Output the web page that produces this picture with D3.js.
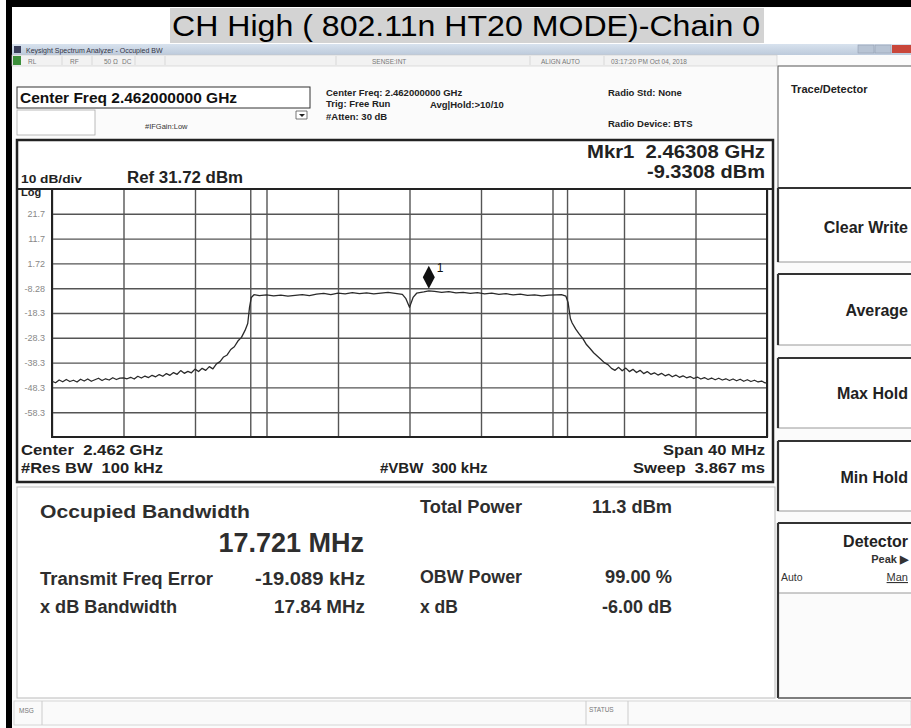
<!DOCTYPE html>
<html>
<head>
<meta charset="utf-8">
<script src="https://cdn.jsdelivr.net/npm/d3@7"></script>
<style>
  html, body { margin: 0; padding: 0; background: #ffffff; }
  svg { display: block; }
  text { font-family: "Liberation Sans", Arial, sans-serif; }
</style>
</head>
<body>
<svg id="chart" width="911" height="728"></svg>
<script>
// ---------------- data ----------------
const chartTitle = "CH High ( 802.11n HT20 MODE)-Chain 0";

// frequency offset from centre (MHz) and trace level (dBm)
const freqOffsetMHz = [
  // lower skirt / noise
  -20.0, -19.8, -19.6, -19.4, -19.2, -19.0, -18.8, -18.6, -18.4, -18.2,
  -18.0, -17.8, -17.6, -17.4, -17.2, -17.0, -16.8, -16.6, -16.4, -16.2,
  -16.0, -15.8, -15.6, -15.4, -15.2, -15.0, -14.8, -14.6, -14.4, -14.2,
  -14.0, -13.8, -13.6, -13.4, -13.2, -13.0, -12.8, -12.6, -12.4, -12.2,
  -12.0, -11.8, -11.6, -11.4, -11.2, -11.0,
  -10.8, -10.6, -10.4, -10.2, -10.0, -9.8, -9.6, -9.4, -9.2, -9.05, -8.95, -8.85, -8.7,
  // in-band
  -8.4, -8.0, -7.6, -7.2, -6.8, -6.4, -6.0, -5.6, -5.2, -4.8,
  -4.4, -4.0, -3.6, -3.2, -2.8, -2.4, -2.0, -1.6, -1.2, -0.8,
  -0.4, -0.2, 0.0, 0.2, 0.4, 0.8, 1.08, 1.4, 1.8, 2.2,
  2.6, 3.0, 3.4, 3.8, 4.2, 4.6, 5.0, 5.4, 5.8, 6.2,
  6.6, 7.0, 7.4, 7.8, 8.2, 8.5, 8.75,
  // upper skirt / noise
  8.87, 9.0, 9.1, 9.3, 9.5, 9.7, 9.9, 10.1, 10.3, 10.5,
  10.7, 10.9, 11.1, 11.3, 11.5,
  11.7, 11.9, 12.1, 12.3, 12.5, 12.7, 12.9, 13.1, 13.3, 13.5,
  13.7, 13.9, 14.1, 14.3, 14.5, 14.7, 14.9, 15.1, 15.3, 15.5,
  15.7, 15.9, 16.1, 16.3, 16.5, 16.7, 16.9, 17.1, 17.3, 17.5,
  17.7, 17.9, 18.1, 18.3, 18.5, 18.7, 18.9, 19.1, 19.3, 19.5,
  19.7, 19.9, 20.0
];
const levelDbm = [
  // lower skirt / noise
  -45.8, -46.4, -45.3, -46.0, -45.1, -45.9, -45.4, -46.1, -45.0, -45.7,
  -44.9, -45.8, -45.2, -44.6, -45.5, -44.8, -45.3, -44.4, -45.1, -44.5,
  -44.4, -44.8, -44.2, -44.9, -43.8, -44.5, -43.7, -44.3, -43.4, -44.0,
  -43.1, -43.8, -42.7, -43.4, -42.3, -43.0, -41.5, -42.6, -41.8, -42.4,
  -40.9, -41.9, -40.6, -41.4, -39.9, -40.8,
  -38.8, -37.9, -36.0, -35.2, -33.0, -31.9, -29.6, -28.1, -25.3, -22.5, -16.0, -12.0, -10.9,
  // in-band
  -11.3, -11.0, -11.4, -11.1, -11.5, -11.2, -10.9, -11.3, -10.7, -10.4,
  -10.9, -10.3, -10.6, -10.1, -10.5, -10.2, -10.6, -10.3, -10.0, -10.4,
  -10.8, -12.5, -16.0, -12.0, -10.3, -9.8, -9.33, -9.6, -10.0, -9.7,
  -10.2, -10.0, -10.4, -10.1, -10.6, -10.3, -10.8, -10.5, -11.0, -10.7,
  -11.2, -11.0, -11.4, -11.1, -11.0, -10.9, -11.5,
  // upper skirt / noise
  -14.0, -20.5, -22.3, -24.8, -26.8, -28.6, -31.0, -32.6, -34.3, -35.6,
  -36.9, -38.3, -39.1, -40.6, -41.4,
  -40.2, -41.6, -40.5, -41.9, -41.0, -42.3, -41.4, -42.7, -41.9, -43.0,
  -42.4, -43.3, -42.6, -43.6, -43.0, -44.0, -43.3, -44.2, -43.6, -44.4,
  -43.9, -44.7, -44.1, -44.9, -44.3, -45.1, -44.5, -45.2, -44.6, -45.3,
  -44.8, -45.5, -44.9, -45.6, -45.0, -45.8, -45.2, -45.9, -45.4, -46.1,
  -45.7, -46.5, -46.2
];

const xGridMHz = [-20, -16, -12, -8, -4, 0, 4, 8, 12, 16, 20];
const yTickValues = [21.72, 11.72, 1.72, -8.28, -18.28, -28.28, -38.28, -48.28, -58.28];
const yTickLabels = ["21.7", "11.7", "1.72", "-8.28", "-18.3", "-28.3", "-38.3", "-48.3", "-58.3"];
const obwEdgesMHz = [-8.880, 8.841];
const markerFreqMHz = [1.08];
const markerLevelDbm = [-9.3308];

const refLevel = 31.72;
const bottomLevel = -68.28;
const halfSpanMHz = 20;

const softkeys = ["Clear Write", "Average", "Max Hold", "Min Hold"];

// ---------------- drawing ----------------
const svg = d3.select("#chart");
const W = 911, H = 728;

function txt(t, xx, yy, size, o) {
  o = o || {};
  const el = svg.append("text").attr("x", xx).attr("y", yy).attr("font-size", size)
    .attr("fill", o.fill || "#222").attr("xml:space", "preserve").text(t);
  if (o.bold !== false) el.attr("font-weight", "bold");
  if (o.anchor) el.attr("text-anchor", o.anchor);
  if (o.len) el.attr("textLength", o.len).attr("lengthAdjust", "spacingAndGlyphs");
  return el;
}

svg.append("rect").attr("x", 0).attr("y", 0).attr("width", W).attr("height", H).attr("fill", "#ffffff");

// outer black frame (left and top)
svg.append("rect").attr("x", 6).attr("y", 0).attr("width", W - 6).attr("height", 7).attr("fill", "#000");
svg.append("rect").attr("x", 6).attr("y", 0).attr("width", 6).attr("height", H).attr("fill", "#000");

// title
svg.append("rect").attr("x", 170).attr("y", 8).attr("width", 594).attr("height", 35).attr("fill", "#d3d3d3");
txt(chartTitle, 172, 36, 30, { bold: false, fill: "#000", len: 588 });

// window screenshot background
svg.append("rect").attr("x", 12).attr("y", 44).attr("width", W - 12).attr("height", H - 44).attr("fill", "#fbfbfb");

// window title bar
const tb = svg.append("defs").append("linearGradient").attr("id", "tbg").attr("x1", 0).attr("x2", 0).attr("y1", 0).attr("y2", 1);
tb.append("stop").attr("offset", "0%").attr("stop-color", "#d8e2ee");
tb.append("stop").attr("offset", "100%").attr("stop-color", "#bccadb");
svg.append("rect").attr("x", 12).attr("y", 44).attr("width", W - 12).attr("height", 11).attr("fill", "url(#tbg)");
svg.append("rect").attr("x", 14).attr("y", 46).attr("width", 7).attr("height", 7).attr("fill", "#3a3f5a");
txt("Keysight Spectrum Analyzer - Occupied BW", 26, 52.5, 7, { bold: false, fill: "#334" });
svg.append("rect").attr("x", 858).attr("y", 45).attr("width", 16).attr("height", 8).attr("fill", "#b8c4d4").attr("stroke", "#8894a8").attr("stroke-width", 0.5);
svg.append("rect").attr("x", 875).attr("y", 45).attr("width", 16).attr("height", 8).attr("fill", "#b8c4d4").attr("stroke", "#8894a8").attr("stroke-width", 0.5);
svg.append("rect").attr("x", 892).attr("y", 45).attr("width", 19).attr("height", 8).attr("fill", "#c9463a");

// status row
svg.append("rect").attr("x", 12).attr("y", 55).attr("width", 765).attr("height", 11).attr("fill", "#f2f2f2").attr("stroke", "#c8c8c8").attr("stroke-width", 0.6);
svg.append("rect").attr("x", 13).attr("y", 56).attr("width", 8).attr("height", 9).attr("fill", "#3c8f3a");
const statusItems = [["RL", 28], ["RF", 70], ["50 Ω", 104], ["DC", 122], ["SENSE:INT", 372], ["ALIGN AUTO", 541], ["03:17:20 PM Oct 04, 2018", 611]];
statusItems.forEach(([t, xx]) => txt(t, xx, 63.5, 6.5, { bold: false, fill: "#777" }));
[62, 92, 135, 165, 336, 530, 604].forEach(xx => svg.append("line").attr("x1", xx).attr("x2", xx).attr("y1", 56).attr("y2", 65).attr("stroke", "#c8c8c8").attr("stroke-width", 0.6));

// header panel
svg.append("rect").attr("x", 17).attr("y", 87).attr("width", 293).attr("height", 21).attr("fill", "#fff").attr("stroke", "#333").attr("stroke-width", 1);
txt("Center Freq 2.462000000 GHz", 20, 103, 15.5, { fill: "#111" });
svg.append("rect").attr("x", 17).attr("y", 110).attr("width", 78).attr("height", 25).attr("fill", "#fff").attr("stroke", "#aaa").attr("stroke-width", 0.8);
txt("#IFGain:Low", 145, 129, 7.5, { bold: false, fill: "#333" });
svg.append("path").attr("d", "M296,111 h11 v8 h-11 z").attr("fill", "#fff").attr("stroke", "#555").attr("stroke-width", 0.8);
svg.append("path").attr("d", "M299,114 l3,3 l3,-3 z").attr("fill", "#222");
const hdr = [
  ["Center Freq: 2.462000000 GHz", 326, 96],
  ["Trig: Free Run", 326, 107],
  ["Avg|Hold:>10/10", 430, 108],
  ["#Atten: 30 dB", 326, 120],
  ["Radio Std: None", 608, 96],
  ["Radio Device: BTS", 608, 127]
];
hdr.forEach(([t, xx, yy]) => txt(t, xx, yy, 9.5));

// softkey panel
svg.append("rect").attr("x", 778).attr("y", 66).attr("width", 135).attr("height", 122).attr("fill", "#fff").attr("stroke", "#555").attr("stroke-width", 1);
txt("Trace/Detector", 791, 93, 11);
const keyTops = [188, 274, 358, 441];
const keyBottoms = [262, 345, 428, 511];
const keyBase = [233, 316, 399, 483];
softkeys.forEach((k, i) => {
  svg.append("rect").attr("x", 778).attr("y", keyTops[i]).attr("width", 140).attr("height", keyBottoms[i] - keyTops[i])
    .attr("fill", "#fff").attr("stroke", "#999").attr("stroke-width", 1);
  svg.append("line").attr("x1", 778).attr("x2", 911).attr("y1", keyTops[i]).attr("y2", keyTops[i]).attr("stroke", "#333").attr("stroke-width", 2.2);
  svg.append("line").attr("x1", 778).attr("x2", 778).attr("y1", keyTops[i]).attr("y2", keyBottoms[i]).attr("stroke", "#333").attr("stroke-width", 2.2);
  txt(k, 908, keyBase[i], 16, { anchor: "end", fill: "#222" });
});
// detector key
svg.append("rect").attr("x", 778).attr("y", 523).attr("width", 140).attr("height", 70).attr("fill", "#fff").attr("stroke", "#999").attr("stroke-width", 1);
svg.append("line").attr("x1", 778).attr("x2", 911).attr("y1", 523).attr("y2", 523).attr("stroke", "#333").attr("stroke-width", 2.2);
svg.append("line").attr("x1", 778).attr("x2", 778).attr("y1", 523).attr("y2", 698).attr("stroke", "#333").attr("stroke-width", 2.2);
svg.append("line").attr("x1", 778).attr("x2", 911).attr("y1", 698).attr("y2", 698).attr("stroke", "#555").attr("stroke-width", 1.5);
txt("Detector", 908, 547, 16, { anchor: "end" });
txt("Peak ▶", 908, 563, 11, { anchor: "end", fill: "#333" });
txt("Auto", 781, 581, 10.5, { bold: false, fill: "#333" });
txt("Man", 908, 581, 11, { bold: false, anchor: "end", fill: "#333" }).attr("text-decoration", "underline");

// plot panel frame
svg.append("rect").attr("x", 17).attr("y", 140).attr("width", 756).attr("height", 342).attr("fill", "#fff").attr("stroke", "#222").attr("stroke-width", 2.5);

// plot area
const plotL = 52, plotR = 767, plotT = 189, plotB = 437;
const x = d3.scaleLinear().domain([-halfSpanMHz, halfSpanMHz]).range([plotL, plotR]);
const y = d3.scaleLinear().domain([bottomLevel, refLevel]).range([plotB, plotT]);

svg.append("line").attr("x1", 17).attr("x2", 773).attr("y1", plotT).attr("y2", plotT).attr("stroke", "#222").attr("stroke-width", 2);

const gx = svg.append("g").attr("transform", `translate(0,${plotB})`)
  .call(d3.axisBottom(x).tickValues(xGridMHz).tickSize(-(plotB - plotT)).tickFormat(""));
gx.select(".domain").remove();
gx.selectAll(".tick line").attr("stroke", "#555").attr("stroke-width", 1.4);

const gy = svg.append("g").attr("transform", `translate(${plotL},0)`)
  .call(d3.axisLeft(y).tickValues(yTickValues).tickSize(-(plotR - plotL)).tickPadding(7)
    .tickFormat((d, i) => yTickLabels[i]));
gy.select(".domain").remove();
gy.selectAll(".tick line").attr("stroke", "#555").attr("stroke-width", 1.4);
gy.selectAll(".tick text").attr("font-family", "'Liberation Sans Narrow', 'Liberation Sans', sans-serif")
  .attr("font-size", 9).attr("fill", "#888");

// OBW edge lines
svg.selectAll(".obw").data(obwEdgesMHz).enter().append("line")
  .attr("x1", d => x(d)).attr("x2", d => x(d)).attr("y1", plotT).attr("y2", plotB)
  .attr("stroke", "#555").attr("stroke-width", 1.4);

// plot border
svg.append("rect").attr("x", plotL).attr("y", plotT).attr("width", plotR - plotL).attr("height", plotB - plotT)
  .attr("fill", "none").attr("stroke", "#222").attr("stroke-width", 2);

// trace
const n = Math.min(freqOffsetMHz.length, levelDbm.length);
const traceData = d3.range(n).map(i => [freqOffsetMHz[i], levelDbm[i]]);
svg.append("path").datum(traceData)
  .attr("d", d3.line().x(d => x(d[0])).y(d => y(d[1])))
  .attr("fill", "none").attr("stroke", "#2a2a2a").attr("stroke-width", 1.3).attr("stroke-linejoin", "round");

// marker
markerFreqMHz.forEach((f, i) => {
  const mx = x(f), my = y(markerLevelDbm[i]) - 2;
  svg.append("path").attr("d", `M${mx},${my} L${mx - 6},${my - 11.5} L${mx},${my - 23} L${mx + 6},${my - 11.5} Z`).attr("fill", "#111");
  txt(String(i + 1), mx + 8, my - 17, 12, { bold: false, fill: "#111" });
});

// plot annotations
txt("Mkr1  2.46308 GHz", 765, 158, 18, { anchor: "end", len: 178 });
txt("-9.3308 dBm", 765, 178, 18, { anchor: "end", len: 118 });
txt("10 dB/div", 21, 183, 11, { len: 61 });
txt("Log", 21, 196, 11);
txt("Ref 31.72 dBm", 127, 183, 16, { len: 116 });
txt("Center  2.462 GHz", 21, 455, 15, { len: 142 });
txt("#Res BW  100 kHz", 21, 473, 15, { len: 142 });
txt("#VBW  300 kHz", 380, 473, 15);
txt("Span 40 MHz", 765, 455, 15, { anchor: "end", len: 102 });
txt("Sweep  3.867 ms", 765, 473, 15, { anchor: "end", len: 132 });

// results panel
svg.append("rect").attr("x", 17).attr("y", 487).attr("width", 758).attr("height", 211).attr("fill", "#fff").attr("stroke", "#bbb").attr("stroke-width", 1);
const rc = "#2e2e2e";
txt("Occupied Bandwidth", 40, 518, 19, { fill: rc, len: 210 });
txt("17.721 MHz", 364, 552, 27, { fill: rc, anchor: "end" });
txt("Transmit Freq Error", 40, 585, 17.5, { fill: rc, len: 173 });
txt("-19.089 kHz", 365, 585, 17.5, { fill: rc, anchor: "end", len: 110 });
txt("x dB Bandwidth", 40, 613, 17.5, { fill: rc, len: 137 });
txt("17.84 MHz", 365, 613, 17.5, { fill: rc, anchor: "end", len: 91 });
txt("Total Power", 420, 513, 17.5, { fill: rc, len: 102 });
txt("11.3 dBm", 672, 513, 17.5, { fill: rc, anchor: "end", len: 80 });
txt("OBW Power", 420, 583, 17.5, { fill: rc, len: 102 });
txt("99.00 %", 672, 583, 17.5, { fill: rc, anchor: "end", len: 67 });
txt("x dB", 420, 613, 17.5, { fill: rc });
txt("-6.00 dB", 672, 613, 17.5, { fill: rc, anchor: "end", len: 70 });

// bottom message bar
svg.append("rect").attr("x", 14).attr("y", 701).attr("width", 897).attr("height", 24).attr("fill", "#fafafa").attr("stroke", "#ccc").attr("stroke-width", 0.8);
[42, 586, 628].forEach(xx => svg.append("line").attr("x1", xx).attr("x2", xx).attr("y1", 701).attr("y2", 725).attr("stroke", "#ccc"));
txt("MSG", 19, 713, 6.5, { bold: false, fill: "#777" });
txt("STATUS", 589, 712, 6.5, { bold: false, fill: "#777" });
</script>
</body>
</html>
